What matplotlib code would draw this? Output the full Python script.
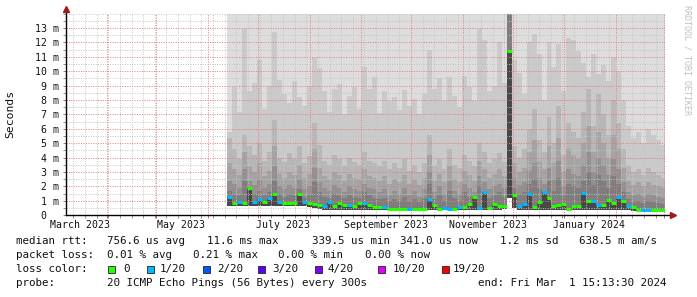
from datetime import datetime, timedelta

import matplotlib
matplotlib.use("Agg")
import matplotlib.dates as mdates
import matplotlib.pyplot as plt
import numpy as np
from matplotlib.patches import Rectangle

plt.rcParams["font.family"] = ["DejaVu Sans Mono"]

# time frame of the "last 360 days" view
END_TIME = datetime(2024, 3, 1, 15, 13, 30)
SPAN_DAYS = 360
SAMPLE_START = datetime(2023, 6, 12, 10, 0)
SAMPLE_STEP_DAYS = 3

# RTT values in milliseconds, one value per 3-day sample
rtt_min = [
    0.64, 0.63, 0.65, 0.64, 0.62, 0.64, 0.63, 0.65, 0.64, 0.63,
    0.64, 0.62, 0.63, 0.64, 0.63, 0.62, 0.60, 0.50, 0.42, 0.40,
    0.38, 0.37, 0.38, 0.36, 0.37, 0.38, 0.36, 0.37, 0.36, 0.37,
    0.36, 0.37, 0.35, 0.36, 0.36, 0.35, 0.36, 0.35, 0.36, 0.35,
    0.37, 0.36, 0.35, 0.36, 0.35, 0.36, 0.35, 0.36, 0.37, 0.38,
    0.36, 0.38, 0.36, 0.37, 0.36, 0.45, 1.20, 0.50, 0.36, 0.37,
    0.38, 0.36, 0.37, 0.38, 0.37, 0.36, 0.37, 0.36, 0.35, 0.36,
    0.36, 0.38, 0.37, 0.36, 0.37, 0.36, 0.37, 0.36, 0.38, 0.36,
    0.34, 0.33, 0.33, 0.33, 0.33, 0.33, 0.33, 0.33,
]
rtt_median = [
    1.30, 0.85, 0.95, 0.85, 1.90, 0.90, 1.10, 0.95, 1.20, 1.50,
    0.95, 0.85, 0.88, 0.82, 1.45, 0.90, 0.85, 0.80, 0.72, 0.65,
    0.95, 0.68, 0.85, 0.72, 0.72, 0.66, 0.85, 0.85, 0.74, 0.60,
    0.55, 0.55, 0.45, 0.44, 0.46, 0.45, 0.45, 0.44, 0.45, 0.43,
    1.10, 0.70, 0.45, 0.48, 0.45, 0.42, 0.58, 0.55, 0.78, 1.30,
    0.50, 1.60, 0.50, 0.75, 0.68, 0.62, 11.40, 1.40, 0.62, 0.80,
    1.50, 0.55, 0.95, 1.60, 1.20, 0.65, 0.70, 0.80, 0.45, 0.65,
    0.65, 1.58, 1.00, 1.00, 0.70, 0.70, 1.05, 0.85, 1.30, 1.00,
    0.65, 0.55, 0.40, 0.40, 0.40, 0.38, 0.38, 0.38,
]
# lost pings out of 20 for each sample
loss_count = [
    1, 0, 1, 0, 0, 1, 1, 0, 1, 0,
    1, 0, 0, 0, 0, 1, 0, 0, 0, 1,
    1, 0, 0, 0, 1, 0, 0, 1, 0, 0,
    0, 1, 0, 0, 0, 0, 1, 0, 0, 0,
    1, 0, 0, 1, 1, 0, 1, 0, 0, 0,
    1, 1, 0, 0, 0, 0, 0, 0, 1, 1,
    1, 0, 0, 1, 0, 0, 0, 0, 0, 0,
    0, 1, 0, 1, 1, 0, 0, 0, 1, 0,
    1, 0, 0, 1, 1, 0, 0, 0,
]
# upper edges of the smoke bands (outer -> inner)
smoke_band2 = [
    5.8, 8.9, 7.2, 12.9, 8.6, 9.2, 10.8, 7.4, 9.0, 12.7,
    9.4, 8.4, 7.8, 9.3, 8.2, 7.6, 9.0, 10.9, 10.2, 8.6,
    7.2, 8.8, 9.1, 7.0, 8.3, 8.9, 7.4, 10.3, 8.8, 9.6,
    7.1, 8.6, 7.9, 8.2, 7.3, 8.7, 7.6, 8.1, 7.0, 8.4,
    11.5, 8.8, 9.5, 8.0, 9.6, 8.3, 7.5, 9.7, 8.9, 7.9,
    12.9, 12.2, 8.6, 9.0, 12.0, 9.2, 15.0, 10.8, 9.9, 8.4,
    12.0, 12.6, 11.2, 8.0, 12.0, 10.3, 11.9, 8.6, 12.3, 12.2,
    11.4, 10.6, 9.6, 11.2, 9.8, 10.4, 9.3, 11.0, 10.0, 8.0,
    6.2, 5.4, 5.8, 5.0, 6.0, 5.6, 5.2, 4.9,
]
smoke_band3 = [
    5.4, 4.6, 3.9, 5.6, 4.8, 4.2, 5.0, 3.8, 4.4, 6.6,
    4.0, 3.7, 4.3, 3.9, 4.8, 3.6, 4.1, 6.4, 4.9, 3.8,
    3.5, 4.2, 3.9, 3.4, 4.0, 3.7, 3.5, 4.4, 3.8, 3.6,
    3.4, 3.8, 3.2, 3.6, 3.3, 3.9, 3.1, 3.5, 3.0, 3.6,
    5.6, 3.4, 3.9, 3.2, 4.6, 3.5, 3.3, 4.2, 3.8, 3.4,
    5.0, 4.4, 3.6, 3.9, 4.3, 3.7, 15.0, 4.8, 4.0, 4.6,
    6.0, 7.4, 5.2, 4.4, 6.8, 5.0, 7.6, 4.2, 6.4, 5.8,
    5.4, 7.2, 8.8, 6.2, 8.4, 7.0, 5.6, 8.0, 6.4, 4.6,
    3.4, 3.0, 3.2, 2.8, 3.3, 3.0, 2.8, 2.6,
]
smoke_band4 = [
    3.6, 3.2, 2.8, 4.4, 3.4, 3.0, 3.6, 2.7, 3.1, 4.8,
    2.9, 2.6, 3.0, 2.8, 3.5, 2.6, 2.9, 4.6, 3.3, 2.7,
    2.5, 3.0, 2.8, 2.4, 2.9, 2.6, 2.5, 3.2, 2.7, 2.6,
    2.4, 2.7, 2.2, 2.5, 2.3, 2.8, 2.2, 2.5, 2.1, 2.6,
    4.2, 2.4, 2.9, 2.3, 3.4, 2.5, 2.3, 3.1, 2.8, 2.4,
    3.8, 3.2, 2.6, 2.9, 3.2, 2.7, 15.0, 3.6, 3.0, 3.3,
    4.4, 5.2, 3.8, 3.2, 4.8, 3.6, 5.4, 3.0, 4.6, 4.2,
    3.9, 5.0, 6.2, 4.4, 5.8, 5.0, 4.0, 5.6, 4.6, 3.3,
    2.4, 2.1, 2.3, 2.0, 2.3, 2.1, 2.0, 1.9,
]
smoke_band5 = [
    2.4, 2.2, 1.9, 3.2, 2.4, 2.1, 2.5, 1.9, 2.2, 3.4,
    2.0, 1.8, 2.1, 1.9, 2.5, 1.8, 2.0, 3.3, 2.3, 1.9,
    1.7, 2.1, 1.9, 1.6, 2.0, 1.8, 1.7, 2.2, 1.9, 1.8,
    1.6, 1.8, 1.4, 1.7, 1.5, 1.9, 1.4, 1.7, 1.3, 1.8,
    3.0, 1.6, 2.0, 1.5, 2.4, 1.7, 1.5, 2.2, 1.9, 1.6,
    2.7, 2.3, 1.8, 2.0, 2.2, 1.9, 15.0, 2.6, 2.1, 2.3,
    3.1, 3.6, 2.6, 2.2, 3.3, 2.5, 3.8, 2.0, 3.2, 2.9,
    2.7, 3.5, 4.4, 3.0, 4.0, 3.5, 2.8, 3.9, 3.2, 2.3,
    1.6, 1.4, 1.5, 1.3, 1.5, 1.4, 1.3, 1.2,
]
smoke_band6 = [
    1.7, 1.5, 1.4, 2.4, 1.8, 1.5, 1.7, 1.4, 1.6, 2.4,
    1.5, 1.3, 1.5, 1.4, 1.8, 1.3, 1.4, 2.3, 1.6, 1.3,
    1.2, 1.5, 1.4, 1.2, 1.4, 1.3, 1.2, 1.6, 1.4, 1.2,
    1.1, 1.2, 1.0, 1.1, 1.0, 1.3, 0.95, 1.1, 0.9, 1.2,
    2.2, 1.1, 1.4, 1.0, 1.7, 1.2, 1.0, 1.6, 1.3, 1.1,
    2.0, 1.6, 1.2, 1.4, 1.6, 1.3, 15.0, 1.9, 1.5, 1.6,
    2.2, 2.5, 1.8, 1.5, 2.4, 1.7, 2.6, 1.4, 2.2, 2.0,
    1.9, 2.4, 3.0, 2.1, 2.8, 2.4, 1.9, 2.7, 2.2, 1.6,
    1.1, 0.9, 1.0, 0.85, 1.0, 0.9, 0.85, 0.8,
]
SMOKE_CEILING = 15.0  # max ping is off the chart everywhere

loss_labels = ["0", "1/20", "2/20", "3/20", "4/20", "10/20", "19/20"]
loss_colors = ["#26ff00", "#00b8ff", "#0059ff", "#5e00ff", "#7e00ff", "#dd00ff", "#ff0000"]
loss_color_by_count = {0: loss_colors[0], 1: loss_colors[1]}

month_labels = ["March 2023", "May 2023", "July 2023", "September 2023", "November 2023", "January 2024"]
month_label_dates = ["2023-03-16", "2023-05-16", "2023-07-16", "2023-09-16", "2023-11-16", "2024-01-16"]

stat_rows = [
    [(16, "median rtt:"), (107, "756.6 us avg"), (207, "11.6 ms max"), (312, "339.5 us min"),
     (400, "341.0 us now"), (500, "1.2 ms sd"), (579, "638.5 m am/s")],
    [(16, "packet loss:"), (107, "0.01 % avg"), (193, "0.21 % max"), (278, "0.00 % min"),
     (365, "0.00 % now")],
    [(16, "probe:"), (107, "20 ICMP Echo Pings (56 Bytes) every 300s"),
     (478, "end: Fri Mar  1 15:13:30 2024")],
]
stat_row_y = [241, 255, 283]
loss_swatch_x = [108, 147, 203, 258, 315, 378, 442]
loss_text_x = [123, 160, 217, 272, 328, 393, 453]

W, H = 697, 297
LEGEND_SIZE = 7.8


def main() -> None:
    fig = plt.figure(figsize=(W / 100, H / 100), dpi=100)
    fig.patch.set_facecolor("white")
    ax = fig.add_axes([66 / W, (H - 215.3) / H, 599 / W, 201.7 / H])

    n = len(rtt_median)
    sample_times = [SAMPLE_START + timedelta(days=SAMPLE_STEP_DAYS * i) for i in range(n)]
    x = mdates.date2num(sample_times)
    lo = np.array(rtt_min)

    bands = [
        ([SMOKE_CEILING] * n, "#dddddd"),
        (smoke_band2, "#cacaca"),
        (smoke_band3, "#b7b7b7"),
        (smoke_band4, "#a4a4a4"),
        (smoke_band5, "#919191"),
        (smoke_band6, "#7e7e7e"),
        (rtt_median, "#484848"),
    ]
    for top, color in bands:
        ax.bar(x, np.array(top) - lo, bottom=lo, width=SAMPLE_STEP_DAYS, align="edge",
               color=color, linewidth=0, antialiased=False, zorder=1)

    ax.hlines(rtt_median, x, x + SAMPLE_STEP_DAYS,
              colors=[loss_color_by_count[c] for c in loss_count], linewidth=2.2, zorder=4)

    start = END_TIME - timedelta(days=SPAN_DAYS)
    ax.set_xlim(mdates.date2num(start), mdates.date2num(END_TIME))
    ax.set_ylim(0, 14)

    ax.xaxis.set_major_locator(mdates.MonthLocator(bymonthday=1))
    ax.xaxis.set_minor_locator(mdates.WeekdayLocator(byweekday=mdates.SU))
    ax.xaxis.set_major_formatter(plt.NullFormatter())
    ax.set_yticks(range(0, 14))
    ax.set_yticklabels(["0  "] + [f"{v} m" for v in range(1, 14)])
    ax.set_yticks(list(np.arange(0.5, 14, 1.0)) + [14], minor=True)

    ax.set_axisbelow(False)
    dots = (0, (1, 1.5))
    ax.grid(True, which="minor", color="#c4c4c4", linestyle=dots, linewidth=0.7, zorder=2)
    ax.grid(True, which="major", color="#e37a7a", linestyle=dots, linewidth=0.7, zorder=3)
    ax.tick_params(which="both", direction="out", length=2.2, width=0.7, labelsize=7.1,
                   colors="#909090", labelcolor="#111111", pad=3)
    ax.tick_params(which="major", colors="#d06060", labelcolor="#111111")
    for side in ax.spines:
        ax.spines[side].set_visible(False)
    ax.set_facecolor("white")

    # axis lines with rrdtool style arrow heads
    x0, x1 = ax.get_xlim()
    ax.plot([x0, x0], [0, 14.25], color="black", lw=1.0, clip_on=False, zorder=5)
    ax.plot([x0, x1 + 4.8], [0, 0], color="black", lw=1.0, clip_on=False, zorder=5)
    ax.plot([x0], [14.3], marker="^", ms=4, color="#a01818", clip_on=False, zorder=6)
    ax.plot([x1 + 4.8], [0], marker=">", ms=4, color="#a01818", clip_on=False, zorder=6)

    for label, day in zip(month_labels, month_label_dates):
        ax.text(mdates.datestr2num(day), -0.048, label, transform=ax.get_xaxis_transform(),
                ha="center", va="center", fontsize=7.1, color="#111111")

    fig.text(10.5 / W, 1 - 114 / H, "Seconds", rotation=90, ha="center", va="center",
             fontsize=8.2, color="#111111")
    fig.text(687 / W, 1 - 60 / H, "RRDTOOL / TOBI OETIKER", rotation=270, ha="center",
             va="center", fontsize=6, color="#c0c0c0")

    for row, y in zip(stat_rows, stat_row_y):
        for px, text in row:
            fig.text(px / W, 1 - y / H, text, ha="left", va="center", fontsize=LEGEND_SIZE,
                     color="#111111")

    fig.text(16 / W, 1 - 269 / H, "loss color:", ha="left", va="center", fontsize=LEGEND_SIZE,
             color="#111111")
    for sx, tx, label, color in zip(loss_swatch_x, loss_text_x, loss_labels, loss_colors):
        fig.patches.append(Rectangle((sx / W, 1 - 272.5 / H), 7 / W, 7 / H, transform=fig.transFigure,
                                     facecolor=color, edgecolor="#222222", linewidth=0.6))
        fig.text(tx / W, 1 - 269 / H, label, ha="left", va="center", fontsize=LEGEND_SIZE,
                 color="#111111")

    fig.savefig("out.png", dpi=100)
    plt.close(fig)


if __name__ == "__main__":
    main()
